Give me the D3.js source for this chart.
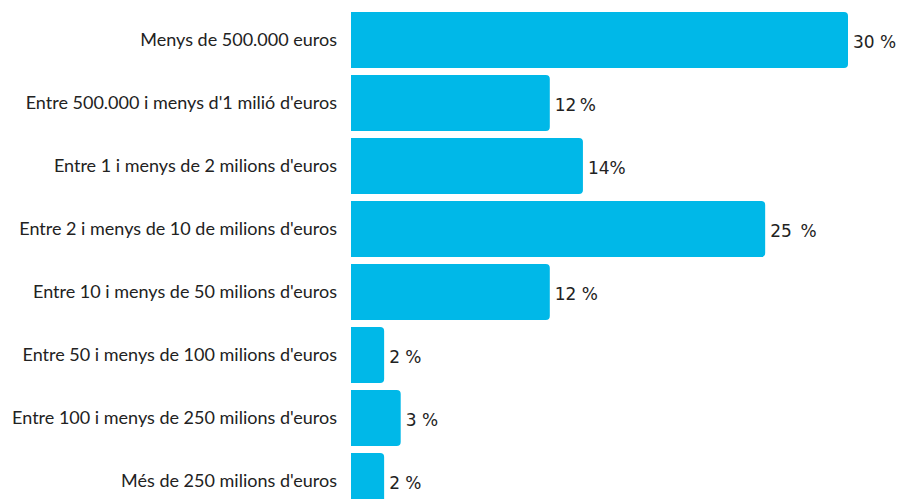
<!DOCTYPE html>
<html>
<head>
<meta charset="utf-8">
<script src="https://cdn.jsdelivr.net/npm/d3@7"></script>
<style>
  body { margin: 0; background: #fff; }
  svg { display: block; }
</style>
</head>
<body>
<svg id="chart"></svg>
<script>
var categories = [
  "Menys de 500.000 euros",
  "Entre 500.000 i menys d'1 milió d'euros",
  "Entre 1 i menys de 2 milions d'euros",
  "Entre 2 i menys de 10 de milions d'euros",
  "Entre 10 i menys de 50 milions d'euros",
  "Entre 50 i menys de 100 milions d'euros",
  "Entre 100 i menys de 250 milions d'euros",
  "Més de 250 milions d'euros"
];
var values = [30, 12, 14, 25, 12, 2, 3, 2];
var valueLabels = ["30 %", "12\u2009%", "14%", "25 \u2009%", "12 %", "2 %", "3 %", "2 %"];

function run(){
  var width = 899, height = 499;
  var left = 351, top = 12;

  var svg = d3.select("#chart")
              .attr("width", width)
              .attr("height", height);

  var x = d3.scaleLinear()
            .domain([0, 30])
            .range([0, 497]);

  // step 63, bar 56
  var y = d3.scaleBand()
            .domain(categories)
            .range([top, top + 63 * categories.length - 7])
            .paddingInner(7 / 63)
            .paddingOuter(0);

  var g = svg.append("g").attr("transform", "translate(" + left + ",0)");

  // bars, square on the left, rounded on the right
  g.selectAll("path.bar")
   .data(values)
   .enter()
   .append("path")
   .attr("class", "bar")
   .attr("fill", "#00b8e8")
   .attr("d", function(d, i) {
     var w = x(d), h = y.bandwidth(), y0 = y(categories[i]), r = 4;
     return "M0," + y0 + "H" + (w - r) + "Q" + w + "," + y0 + " " + w + "," + (y0 + r) +
            "V" + (y0 + h - r) + "Q" + w + "," + (y0 + h) + " " + (w - r) + "," + (y0 + h) +
            "H0Z";
   });

  // category labels
  svg.selectAll("text.cat")
     .data(categories)
     .enter()
     .append("text")
     .attr("class", "cat")
     .attr("x", 337)
     .attr("y", function(d) { return y(d) + y.bandwidth() / 2; })
     .attr("dy", "0.35em")
     .attr("text-anchor", "end")
     .style("font-family", "'Source Sans Pro', Lato, sans-serif")
     .style("font-size", "18px")
     .style("fill", "#222")
     .text(function(d) { return d; });

  // value labels
  g.selectAll("text.val")
   .data(values)
   .enter()
   .append("text")
   .attr("class", "val")
   .attr("x", function(d) { return x(d) + 5; })
   .attr("y", function(d, i) { return y(categories[i]) + y.bandwidth() / 2 + 2; })
   .attr("dy", "0.35em")
   .style("font-family", "'DejaVu Sans', sans-serif")
   .style("font-size", "17px")
   .style("fill", "#222")
   .style("white-space", "pre")
   .text(function(d, i) { return valueLabels[i]; });
}
run();
</script>
</body>
</html>
